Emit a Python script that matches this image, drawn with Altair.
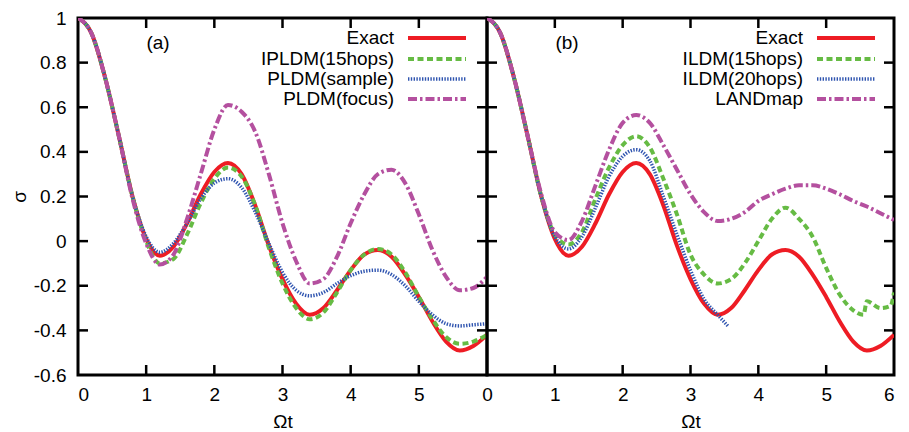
import altair as alt
import pandas as pd

# ---------------- data ----------------
T = [0.0, 0.2, 0.4, 0.6, 0.8, 1.0, 1.2, 1.4, 1.6, 1.8, 2.0, 2.2, 2.4, 2.6, 2.8, 3.0,
     3.2, 3.4, 3.6, 3.8, 4.0, 4.2, 4.4, 4.6, 4.8, 5.0, 5.2, 5.4, 5.6, 5.8, 6.0]

EXACT = [1.0, 0.93, 0.73, 0.47, 0.20, 0.01, -0.065, -0.025, 0.08, 0.21, 0.31, 0.35, 0.30, 0.16,
         -0.02, -0.17, -0.28, -0.33, -0.30, -0.22, -0.13, -0.06, -0.04, -0.07, -0.15, -0.25,
         -0.36, -0.45, -0.49, -0.47, -0.42]

IPLDM15 = [1.0, 0.93, 0.73, 0.47, 0.20, 0.0, -0.10, -0.08, 0.03, 0.17, 0.28, 0.33, 0.29, 0.16,
           -0.03, -0.19, -0.30, -0.35, -0.32, -0.23, -0.13, -0.06, -0.035, -0.06, -0.14, -0.25,
           -0.35, -0.43, -0.46, -0.45, -0.42]

PLDM_SAMPLE = [1.0, 0.93, 0.73, 0.47, 0.20, 0.02, -0.05, -0.01, 0.08, 0.19, 0.26, 0.28, 0.24, 0.13,
               -0.01, -0.14, -0.22, -0.245, -0.23, -0.19, -0.155, -0.135, -0.13, -0.15, -0.20,
               -0.27, -0.33, -0.37, -0.38, -0.375, -0.37]

PLDM_FOCUS = [1.0, 0.93, 0.73, 0.47, 0.19, -0.01, -0.105, -0.06, 0.10, 0.30, 0.50, 0.61, 0.58, 0.49,
              0.30, 0.08, -0.09, -0.19, -0.17, -0.07, 0.08, 0.21, 0.30, 0.32, 0.26, 0.12, -0.04,
              -0.16, -0.22, -0.21, -0.16]

ILDM15_T = [0.0, 0.2, 0.4, 0.6, 0.8, 1.0, 1.2, 1.4, 1.6, 1.8, 2.0, 2.2, 2.4, 2.6, 2.8, 3.0, 3.2,
            3.4, 3.6, 3.8, 4.0, 4.2, 4.4, 4.6, 4.8, 5.0, 5.2, 5.4, 5.55, 5.6, 5.8, 5.95, 6.0]
ILDM15 = [1.0, 0.93, 0.73, 0.47, 0.20, 0.03, -0.015, 0.04, 0.19, 0.33, 0.43, 0.47, 0.42, 0.28,
          0.12, -0.06, -0.15, -0.19, -0.17, -0.10, 0.0, 0.10, 0.15, 0.10, 0.02, -0.12, -0.24,
          -0.31, -0.33, -0.27, -0.30, -0.29, -0.23]

ILDM20_T = [0.0, 0.2, 0.4, 0.6, 0.8, 1.0, 1.2, 1.4, 1.6, 1.8, 2.0, 2.2, 2.4, 2.6, 2.8, 3.0, 3.2,
            3.4, 3.55]
ILDM20 = [1.0, 0.93, 0.73, 0.47, 0.20, 0.02, -0.035, 0.02, 0.15, 0.29, 0.38, 0.41, 0.36, 0.20,
          0.03, -0.13, -0.26, -0.33, -0.38]

LANDMAP = [1.0, 0.93, 0.73, 0.47, 0.21, 0.04, 0.005, 0.09, 0.25, 0.41, 0.53, 0.565, 0.53, 0.43,
           0.32, 0.21, 0.13, 0.09, 0.10, 0.13, 0.18, 0.21, 0.235, 0.25, 0.25, 0.235, 0.21, 0.18,
           0.155, 0.125, 0.095]

LEGEND_A = ["Exact", "IPLDM(15hops)", "PLDM(sample)", "PLDM(focus)"]
LEGEND_B = ["Exact", "ILDM(15hops)", "ILDM(20hops)", "LANDmap"]
PANEL_LABELS = ["(a)", "(b)"]

X_LABELS_A = [0, 1, 2, 3, 4, 5]
X_LABELS_B = [0, 1, 2, 3, 4, 5, 6]
Y_LABELS = [-0.6, -0.4, -0.2, 0, 0.2, 0.4, 0.6, 0.8, 1]
X_TICKS = [1, 2, 3, 4, 5]
Y_TICKS = [-0.4, -0.2, 0, 0.2, 0.4, 0.6, 0.8]

# ---------------- styles ----------------
RED, GREEN, BLUE, PURPLE = "#ee1c24", "#66bb44", "#3055b0", "#b4509f"
STYLES = [
    dict(color=RED, dash=None, width=4),
    dict(color=GREEN, dash=[6, 3.5], width=4),
    dict(color=BLUE, dash=[1.4, 1.4], width=3.5),
    dict(color=PURPLE, dash=[9, 3, 2.5, 3], width=4),
]

W1, W2, H = 409, 407, 357
FONT = "Liberation Sans"
FS = 19
TICK_LEN = 10

xscale = alt.Scale(domain=[0, 6], nice=False, zero=False)
yscale = alt.Scale(domain=[-0.6, 1], nice=False, zero=False)

y_axis_left = alt.Axis(values=Y_LABELS, title="σ", labelExpr="'' + datum.value",
                       labelPadding=12, titlePadding=4, grid=False, domain=False,
                       ticks=False, tickSize=0)


def x_axis(vals, last_right=False):
    kw = dict(values=vals, title="Ωt", labelPadding=10, titlePadding=8, grid=False,
              domain=False, ticks=False, tickSize=0, format="d")
    if last_right:
        kw["labelAlign"] = alt.condition("datum.value == 6", alt.value("right"),
                                         alt.value("center"))
    return alt.Axis(**kw)


def line_layer(t, v, style, xa, ya):
    df = pd.DataFrame({"t": t, "s": v})
    kw = dict(color=style["color"], strokeWidth=style["width"], interpolate="monotone", clip=True)
    if style["dash"] is not None:
        kw["strokeDash"] = style["dash"]
    return alt.Chart(df).mark_line(**kw).encode(
        x=alt.X("t:Q", scale=xscale, axis=xa),
        y=alt.Y("s:Q", scale=yscale, axis=ya),
    )


def tick_layers(xa, ya, W):
    xt = pd.DataFrame({"v": X_TICKS})
    yt = pd.DataFrame({"v": Y_TICKS})
    rk = dict(color="black", strokeWidth=2.5)
    return [
        alt.Chart(xt).mark_rule(**rk).encode(x=alt.X("v:Q", scale=xscale, axis=xa),
                                             y=alt.value(H), y2=alt.value(H - TICK_LEN)),
        alt.Chart(xt).mark_rule(**rk).encode(x=alt.X("v:Q", scale=xscale, axis=xa),
                                             y=alt.value(0), y2=alt.value(TICK_LEN)),
        alt.Chart(yt).mark_rule(**rk).encode(y=alt.Y("v:Q", scale=yscale, axis=ya),
                                             x=alt.value(0), x2=alt.value(TICK_LEN)),
        alt.Chart(yt).mark_rule(**rk).encode(y=alt.Y("v:Q", scale=yscale, axis=ya),
                                             x=alt.value(W), x2=alt.value(W - TICK_LEN)),
    ]


def legend_layers(labels):
    layers = []
    row_y = [20, 41, 61, 81]
    for i, lab in enumerate(labels):
        st = STYLES[i]
        df = pd.DataFrame({"label": [lab]})
        layers.append(alt.Chart(df).mark_text(align="right", baseline="middle", font=FONT,
                                              fontSize=FS, color="black").encode(
            text="label:N", x=alt.value(316), y=alt.value(row_y[i])))
        kw = dict(color=st["color"], strokeWidth=st["width"])
        if st["dash"] is not None:
            kw["strokeDash"] = st["dash"]
        layers.append(alt.Chart(df).mark_rule(**kw).encode(
            x=alt.value(330), x2=alt.value(388), y=alt.value(row_y[i])))
    return layers


def panel_label(lab):
    df = pd.DataFrame({"lab": [lab]})
    return alt.Chart(df).mark_text(font=FONT, fontSize=FS, color="black", align="center",
                                   baseline="middle").encode(
        text="lab:N", x=alt.value(80), y=alt.value(25))


# ---------------- panel (a) ----------------
xa_a = x_axis(X_LABELS_A)
series_a = [EXACT, IPLDM15, PLDM_SAMPLE, PLDM_FOCUS]
layers_a = [line_layer(T, s, STYLES[i], xa_a, y_axis_left) for i, s in enumerate(series_a)]
layers_a += tick_layers(xa_a, y_axis_left, W1)
layers_a += legend_layers(LEGEND_A)
layers_a.append(panel_label(PANEL_LABELS[0]))
left = alt.layer(*layers_a).properties(width=W1, height=H)

# ---------------- panel (b) ----------------
xa_b = x_axis(X_LABELS_B, last_right=True)
series_b = [(T, EXACT), (ILDM15_T, ILDM15), (ILDM20_T, ILDM20), (T, LANDMAP)]
layers_b = [line_layer(t, s, STYLES[i], xa_b, None) for i, (t, s) in enumerate(series_b)]
layers_b += tick_layers(xa_b, None, W2)
layers_b += legend_layers(LEGEND_B)
layers_b.append(panel_label(PANEL_LABELS[1]))
right = alt.layer(*layers_b).properties(width=W2, height=H)

chart = alt.hconcat(left, right, spacing=0, bounds="flush").properties(
    padding={"left": 0, "top": -1, "right": 0, "bottom": 0}
).configure_view(stroke="black", strokeWidth=3).configure_axis(
    labelFont=FONT, labelFontSize=FS, labelColor="black",
    titleFont=FONT, titleFontSize=FS, titleFontWeight="normal", titleColor="black",
)

chart.save("out.html", embed_options={"renderer": "svg", "actions": False})
